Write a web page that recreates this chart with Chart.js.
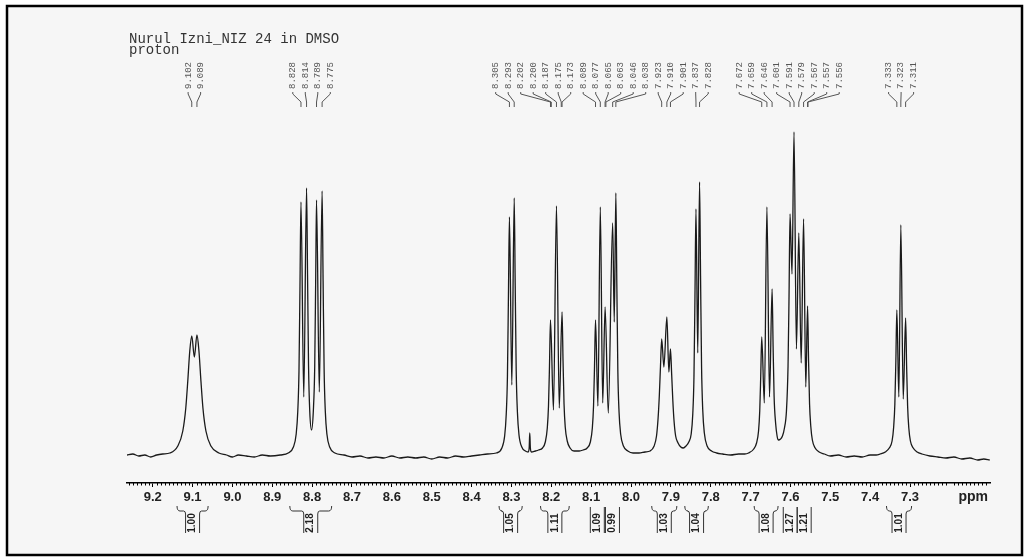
<!DOCTYPE html>
<html>
<head>
<meta charset="utf-8">
<script src="https://cdn.jsdelivr.net/npm/chart.js@4.4.0/dist/chart.umd.min.js"></script>
<style>
  html, body { margin: 0; padding: 0; background: #fff; }
  canvas { display: block; }
</style>
</head>
<body>
<canvas id="nmr" width="1028" height="558"></canvas>
<script>
// 1H NMR spectrum (ppm, height above baseline)
const titleLines = ['Nurul Izni_NIZ 24 in DMSO', 'proton'];

const xTicks = [9.2, 9.1, 9.0, 8.9, 8.8, 8.7, 8.6, 8.5, 8.4, 8.3, 8.2, 8.1, 8.0, 7.9, 7.8, 7.7, 7.6, 7.5, 7.4, 7.3];

const spectrum = [
  [9.265, 1], [9.25, 2], [9.235, 0], [9.22, 1], [9.205, -1], [9.19, 1], [9.175, 2],
  [9.157, 3], [9.137, 10], [9.1245, 25], [9.117, 48], [9.112, 75], [9.107, 105],
  [9.102, 120], [9.0955, 99], [9.089, 121],
  [9.084, 105], [9.079, 75], [9.074, 48], [9.0665, 25], [9.054, 10], [9.034, 3],
  [9.015, 1], [9.0, -1], [8.985, 1], [8.965, 0], [8.945, -1], [8.925, 1], [8.905, 0], [8.88, 1],
  [8.86, 3], [8.847, 9], [8.84, 22], [8.836, 45], [8.833, 85], [8.8305, 170],
  [8.828, 254], [8.821, 59], [8.814, 268],
  [8.8115, 180], [8.809, 90], [8.806, 45], [8.8015, 26], [8.797, 45], [8.7935, 90], [8.791, 180],
  [8.789, 256], [8.782, 64], [8.775, 265],
  [8.7725, 175], [8.77, 88], [8.767, 45], [8.763, 22], [8.756, 9], [8.743, 3],
  [8.72, 1], [8.7, -1], [8.68, 0], [8.66, -2], [8.64, -1], [8.62, -2], [8.6, 0], [8.58, -2],
  [8.56, -1], [8.54, -2], [8.52, -1], [8.5, -3], [8.48, -1], [8.46, -2], [8.44, 0], [8.42, -1],
  [8.4, 0], [8.38, 1], [8.36, 2],
  [8.338, 3], [8.324, 8], [8.317, 20], [8.313, 42], [8.31, 80], [8.3075, 160],
  [8.305, 239], [8.299, 71], [8.293, 258],
  [8.2905, 170], [8.288, 85], [8.285, 44], [8.281, 21], [8.274, 9], [8.265, 5],
  [8.258, 4], [8.2555, 8], [8.254, 23], [8.2525, 8], [8.25, 4], [8.24, 5],
  [8.232, 6], [8.222, 8], [8.215, 14], [8.21, 28], [8.207, 50], [8.2045, 90],
  [8.202, 136], [8.1945, 46], [8.187, 250], [8.18, 48], [8.173, 144],
  [8.1705, 95], [8.168, 52], [8.165, 29], [8.16, 15], [8.153, 8], [8.143, 5], [8.13, 5],
  [8.12, 6], [8.11, 8], [8.102, 14], [8.097, 28], [8.094, 50], [8.0915, 90],
  [8.089, 136], [8.083, 50], [8.077, 249], [8.071, 53], [8.065, 149], [8.057, 43],
  [8.046, 233], [8.042, 134], [8.038, 263],
  [8.0355, 170], [8.033, 85], [8.03, 44], [8.026, 22], [8.019, 10], [8.008, 5], [7.995, 3],
  [7.98, 3], [7.965, 4], [7.952, 5], [7.942, 10], [7.936, 20], [7.932, 38], [7.929, 60], [7.926, 90],
  [7.923, 117], [7.9175, 89], [7.91, 139], [7.905, 84], [7.901, 107],
  [7.898, 82], [7.895, 55], [7.892, 35], [7.888, 20], [7.882, 13], [7.875, 9], [7.869, 8],
  [7.862, 10], [7.855, 14], [7.849, 22], [7.845, 42], [7.842, 80], [7.8395, 160],
  [7.837, 247], [7.8325, 103], [7.828, 274],
  [7.8255, 180], [7.823, 90], [7.82, 46], [7.816, 23], [7.809, 10], [7.798, 5], [7.785, 3],
  [7.77, 2], [7.75, 1], [7.73, 2], [7.715, 2],
  [7.705, 3], [7.692, 7], [7.685, 13], [7.68, 25], [7.677, 45], [7.6745, 80],
  [7.672, 119], [7.6655, 53], [7.659, 249], [7.6525, 59], [7.646, 167],
  [7.6435, 110], [7.641, 60], [7.637, 32], [7.6335, 20], [7.6305, 16], [7.62, 20],
  [7.615, 28], [7.61, 45], [7.606, 90], [7.6035, 160],
  [7.601, 242], [7.596, 182], [7.591, 324], [7.585, 107], [7.579, 223], [7.573, 93],
  [7.567, 237], [7.5615, 69], [7.557, 150],
  [7.5545, 95], [7.552, 52], [7.549, 30], [7.545, 16], [7.538, 8], [7.528, 4], [7.515, 2],
  [7.5, 0], [7.48, 1], [7.46, -1], [7.44, 0], [7.42, -1], [7.4, 1], [7.385, 1],
  [7.375, 2], [7.362, 4], [7.352, 8], [7.345, 15], [7.341, 29], [7.338, 52], [7.3355, 95],
  [7.333, 146], [7.328, 59], [7.323, 231], [7.317, 57], [7.311, 138],
  [7.3085, 90], [7.306, 50], [7.303, 28], [7.299, 15], [7.292, 8], [7.282, 4], [7.27, 2],
  [7.25, 0], [7.23, -1], [7.21, -2], [7.19, -1], [7.17, -3], [7.15, -2], [7.13, -4], [7.115, -3], [7.1, -4]
];

// picked peaks, grouped the way the labels are fanned out above the trace
const peakGroups = [
  ['9.102', '9.089'],
  ['8.828', '8.814', '8.789', '8.775'],
  ['8.305', '8.293', '8.202', '8.200', '8.187', '8.175', '8.173', '8.089', '8.077',
   '8.065', '8.063', '8.046', '8.038', '7.923', '7.910', '7.901', '7.837', '7.828'],
  ['7.672', '7.659', '7.646', '7.601', '7.591', '7.579', '7.567', '7.557', '7.556'],
  ['7.333', '7.323', '7.311']
];

// integral regions (ppm) and their values
const integralFrom = [9.139, 8.856, 8.331, 8.227, 8.111, 8.065, 7.948, 7.865, 7.691, 7.618, 7.584, 7.359];
const integralTo = [9.061, 8.751, 8.273, 8.155, 8.058, 8.028, 7.885, 7.806, 7.631, 7.583, 7.547, 7.296];
const integralValues = ['1.00', '2.18', '1.05', '1.11', '1.09', '0.99', '1.03', '1.04', '1.08', '1.27', '1.21', '1.01'];

const decorPlugin = {
  id: 'decor',
  beforeDraw(chart) {
    const ctx = chart.ctx;
    ctx.save();
    ctx.fillStyle = '#fff';
    ctx.fillRect(0, 0, chart.width, chart.height);
    ctx.fillStyle = '#f6f6f6';
    ctx.fillRect(8, 7, 1013, 547);
    ctx.strokeStyle = '#000';
    ctx.lineWidth = 2.5;
    ctx.strokeRect(7, 6, 1015, 549);
    ctx.restore();
  },
  afterDraw(chart) {
    const ctx = chart.ctx;
    const xs = chart.scales.x;
    const area = chart.chartArea;
    ctx.save();

    // title
    ctx.fillStyle = '#333';
    ctx.font = '14px "Liberation Mono", monospace';
    ctx.textAlign = 'left';
    ctx.textBaseline = 'alphabetic';
    ctx.fillText(titleLines[0], 129, 43);
    ctx.fillText(titleLines[1], 129, 54);

    // minor ticks every 0.01 ppm
    ctx.strokeStyle = '#000';
    ctx.lineWidth = 1;
    ctx.beginPath();
    for (let i = 710; i <= 926; i++) {
      if (i % 10 === 0) continue;
      const px = Math.round(xs.getPixelForValue(i / 100)) + 0.5;
      ctx.moveTo(px, area.bottom);
      ctx.lineTo(px, area.bottom + 2.5);
    }
    ctx.stroke();

    // ppm unit
    ctx.fillStyle = '#222';
    ctx.font = 'bold 14px "Liberation Sans", Arial, sans-serif';
    ctx.textAlign = 'right';
    ctx.textBaseline = 'middle';
    ctx.fillText('ppm', 988, 497);

    // peak labels with fan connectors
    ctx.font = '9px "Liberation Mono", monospace';
    ctx.fillStyle = '#555';
    ctx.strokeStyle = '#555';
    ctx.lineWidth = 1;
    peakGroups.forEach(group => {
      const pxs = group.map(p => xs.getPixelForValue(parseFloat(p)));
      const mid = pxs.reduce((a, b) => a + b, 0) / pxs.length;
      group.forEach((label, i) => {
        const lx = mid + (i - (group.length - 1) / 2) * 12.5;
        ctx.save();
        ctx.translate(lx, 89);
        ctx.rotate(-Math.PI / 2);
        ctx.textAlign = 'left';
        ctx.textBaseline = 'middle';
        ctx.fillText(label, 0, 0);
        ctx.restore();
        ctx.beginPath();
        ctx.moveTo(lx, 92);
        ctx.lineTo(lx, 94);
        ctx.lineTo(pxs[i], 102);
        ctx.lineTo(pxs[i], 107);
        ctx.stroke();
      });
    });

    // integrals
    ctx.strokeStyle = '#333';
    ctx.fillStyle = '#222';
    ctx.lineWidth = 1;
    ctx.font = 'bold 10px "Liberation Sans", Arial, sans-serif';
    integralValues.forEach((val, i) => {
      const xa = xs.getPixelForValue(integralFrom[i]);
      const xb = xs.getPixelForValue(integralTo[i]);
      const xc = (xa + xb) / 2;
      const hw = Math.min(7, (xb - xa) / 2);
      ctx.beginPath();
      if (xc - hw - xa > 4) {
        ctx.moveTo(xa, 506);
        ctx.quadraticCurveTo(xa, 511, xa + 3, 511);
        ctx.lineTo(xc - hw - 2, 511);
        ctx.quadraticCurveTo(xc - hw, 511, xc - hw, 514);
        ctx.lineTo(xc - hw, 533);
        ctx.moveTo(xb, 506);
        ctx.quadraticCurveTo(xb, 511, xb - 3, 511);
        ctx.lineTo(xc + hw + 2, 511);
        ctx.quadraticCurveTo(xc + hw, 511, xc + hw, 514);
        ctx.lineTo(xc + hw, 533);
      } else {
        ctx.moveTo(xc - hw, 507);
        ctx.lineTo(xc - hw, 533);
        ctx.moveTo(xc + hw, 507);
        ctx.lineTo(xc + hw, 533);
      }
      ctx.stroke();
      ctx.save();
      ctx.translate(xc, 523);
      ctx.rotate(-Math.PI / 2);
      ctx.textAlign = 'center';
      ctx.textBaseline = 'middle';
      ctx.fillText(val, 0, 0);
      ctx.restore();
    });

    ctx.restore();
  }
};

new Chart(document.getElementById('nmr'), {
  type: 'line',
  data: {
    datasets: [{
      data: spectrum.map(p => ({ x: p[0], y: p[1] })),
      borderColor: '#1a1a1a',
      borderWidth: 1.3,
      pointRadius: 0,
      fill: false,
      cubicInterpolationMode: 'monotone'
    }]
  },
  options: {
    responsive: false,
    animation: false,
    layout: { padding: { top: 100, left: 127, right: 38, bottom: 0 } },
    plugins: { legend: { display: false }, tooltip: { enabled: false } },
    scales: {
      x: {
        type: 'linear',
        reverse: true,
        min: 7.0993,
        max: 9.2645,
        afterBuildTicks: scale => { scale.ticks = xTicks.map(v => ({ value: v })); },
        afterFit: scale => { scale.height = 75; },
        border: { display: true, color: '#000', width: 1.5 },
        grid: { drawOnChartArea: false, drawTicks: true, tickLength: 4, color: '#000' },
        ticks: {
          autoSkip: false,
          maxRotation: 0,
          padding: 3,
          color: '#222',
          font: { family: '"Liberation Sans", Arial, sans-serif', size: 13, weight: 'bold' },
          callback: v => v.toFixed(1)
        }
      },
      y: { display: false, min: -27, max: 356 }
    }
  },
  plugins: [decorPlugin]
});
</script>
</body>
</html>
